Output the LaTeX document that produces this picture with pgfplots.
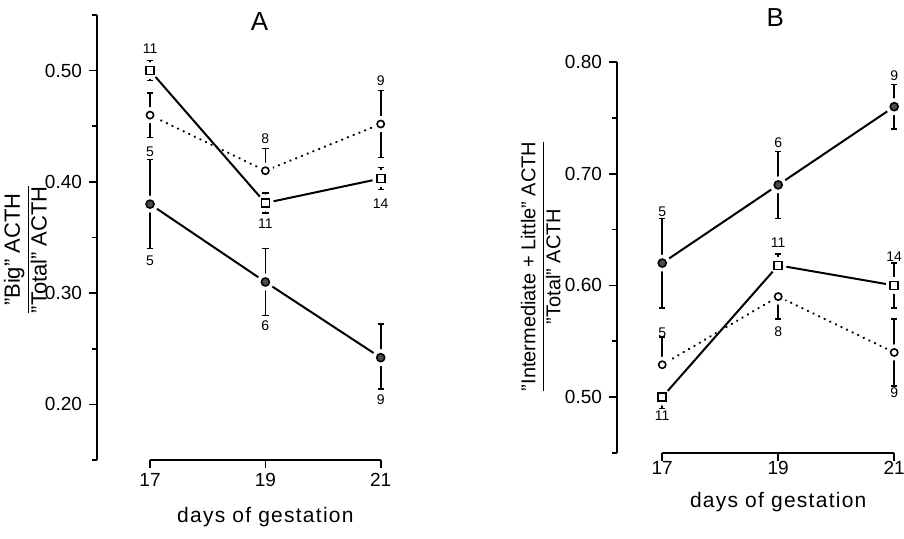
\documentclass[border=0pt]{standalone}
\usepackage{pgfplots}
\usepackage{pgfplotstable}
\pgfplotsset{compat=1.18}
\usepackage{fontspec}
\setmainfont{Liberation Sans}

% x = day, y = ratio, ep/em = upper/lower error
\pgfplotstableread{
x  y     ep    em
17 0.500 0.009 0.009
19 0.381 0.009 0.009
21 0.403 0.010 0.010
}\Asq
\pgfplotstableread{
x  y     ep    em
17 0.460 0.020 0.020
19 0.410 0.020 0.000
21 0.452 0.030 0.030
}\Aoc
\pgfplotstableread{
x  y     ep    em
17 0.380 0.040 0.040
19 0.310 0.030 0.030
21 0.242 0.030 0.028
}\Afc
\pgfplotstableread{
x  y     ep    em
17 0.620 0.040 0.040
19 0.690 0.030 0.030
21 0.760 0.020 0.020
}\Bfc
\pgfplotstableread{
x  y     ep    em
17 0.500 0.000 0.010
19 0.618 0.010 0.000
21 0.600 0.020 0.020
}\Bsq
\pgfplotstableread{
x  y     ep    em
17 0.529 0.025 0.000
19 0.590 0.000 0.020
21 0.540 0.030 0.030
}\Boc

\tikzset{nlab/.style={font=\fontsize{7}{8}\selectfont, inner sep=0pt}}

\pgfplotsset{
  panel/.style={
    scale only axis, clip=false,
    axis x line*=bottom, axis y line*=left, separate axis lines,
    x axis line style={draw=none},
    y axis line style={-, line width=0.9pt},
    tick align=outside,
    major tick length=4pt, minor tick length=2.5pt,
    every tick/.style={black, line width=0.8pt},
    xtick={17,19,21},
    ticklabel style={font=\fontsize{9.5}{11}\selectfont},
    yticklabel style={/pgf/number format/.cd, fixed, fixed zerofill, precision=2},
    /pgf/number format/assume math mode=true,
  },
  errs/.style={
    error bars/.cd, y dir=both, y explicit,
    error bar style={solid, line width=0.8pt},
    error mark options={solid, line width=0.8pt, mark size=1.6pt, rotate=90},
  },
  halo/.style={white, only marks, mark=*, mark size=#1, mark options={solid, draw=white, fill=white}},
  ln/.style={black, line width=1pt, mark=none},
  dt/.style={black, line width=1.2pt, mark=none, line cap=round, dash pattern=on 0.1pt off 3pt},
}

\begin{document}
\begin{tikzpicture}
\useasboundingbox (0,0) rectangle (452pt,269.5pt);

% ---------------- panel A
\begin{axis}[panel,
  at={(48.5pt,39.5pt)}, anchor=south west,
  width=150.5pt, height=222.5pt,
  xmin=16.08, xmax=21.3, ymin=0.15, ymax=0.55,
  ytick={0.2,0.3,0.4,0.5},
  minor ytick={0.15,0.25,0.35,0.45,0.55},
  xticklabel style={yshift=1pt},
]
\addplot[ln, errs] table[x=x, y=y, y error plus=ep, y error minus=em] {\Asq};
\addplot[dt, errs] table[x=x, y=y, y error plus=ep, y error minus=em] {\Aoc};
\addplot[ln, errs] table[x=x, y=y, y error plus=ep, y error minus=em] {\Afc};
\addplot[halo=4pt] table[x=x, y=y] {\Asq};
\addplot[halo=3.8pt] table[x=x, y=y] {\Aoc};
\addplot[halo=4pt] table[x=x, y=y] {\Afc};
\addplot[only marks, mark=square, mark size=2pt, mark options={solid, line width=0.8pt, fill=white}] table[x=x, y=y] {\Asq};
\addplot[only marks, mark=o, mark size=1.8pt, mark options={solid, line width=0.8pt}] table[x=x, y=y] {\Aoc};
\addplot[only marks, mark=*, mark size=2pt, mark options={solid, line width=0.8pt, fill=black!70}] table[x=x, y=y] {\Afc};

\draw[line width=0.9pt] (axis cs:17,0.15) -- (axis cs:21,0.15);

\node[nlab] at (axis cs:17,0.5196) {11};
\node[nlab] at (axis cs:17,0.427) {5};
\node[nlab] at (axis cs:17,0.329) {5};
\node[nlab] at (axis cs:19,0.439) {8};
\node[nlab] at (axis cs:19,0.362) {11};
\node[nlab] at (axis cs:19,0.271) {6};
\node[nlab] at (axis cs:21,0.491) {9};
\node[nlab] at (axis cs:21,0.380) {14};
\node[nlab] at (axis cs:21,0.204) {9};

\node[font=\fontsize{13}{15}\selectfont] at (axis cs:18.9,0.544) {A};
\node[font=\fontsize{10.5}{12}\selectfont\addfontfeature{LetterSpace=6}] at (axis cs:19,0.15) [yshift=-28.5pt] {days of gestation};
\node[rotate=90, inner sep=0pt, font=\fontsize{11}{13}\selectfont] at (axis cs:16.08,0.339) [yshift=34.5pt]
  {\begin{tabular}{@{}c@{}}"Big" ACTH\\\hline\rule{0pt}{8.5pt}"Total" ACTH\end{tabular}};
\end{axis}

% ---------------- panel B
\begin{axis}[panel,
  at={(308.5pt,43pt)}, anchor=south west,
  width=141.5pt, height=195.5pt,
  xmin=16.22, xmax=21.1, ymin=0.45, ymax=0.80,
  ytick={0.5,0.6,0.7,0.8},
  minor ytick={0.45,0.55,0.65,0.75},
  xticklabel style={yshift=3.5pt},
]
\addplot[ln, errs] table[x=x, y=y, y error plus=ep, y error minus=em] {\Bfc};
\addplot[ln, errs] table[x=x, y=y, y error plus=ep, y error minus=em] {\Bsq};
\addplot[dt, errs] table[x=x, y=y, y error plus=ep, y error minus=em] {\Boc};
\addplot[halo=4pt] table[x=x, y=y] {\Bfc};
\addplot[halo=4pt] table[x=x, y=y] {\Bsq};
\addplot[halo=3.8pt] table[x=x, y=y] {\Boc};
\addplot[only marks, mark=*, mark size=2pt, mark options={solid, line width=0.8pt, fill=black!70}] table[x=x, y=y] {\Bfc};
\addplot[only marks, mark=square, mark size=2pt, mark options={solid, line width=0.8pt, fill=white}] table[x=x, y=y] {\Bsq};
\addplot[only marks, mark=o, mark size=1.8pt, mark options={solid, line width=0.8pt}] table[x=x, y=y] {\Boc};

\draw[line width=0.9pt] (axis cs:17,0.45) -- (axis cs:21,0.45);

\node[nlab] at (axis cs:21,0.788) {9};
\node[nlab] at (axis cs:19,0.728) {6};
\node[nlab] at (axis cs:17,0.666) {5};
\node[nlab] at (axis cs:19,0.638) {11};
\node[nlab] at (axis cs:21,0.626) {14};
\node[nlab] at (axis cs:19,0.559) {8};
\node[nlab] at (axis cs:17,0.558) {5};
\node[nlab] at (axis cs:17,0.483) {11};
\node[nlab] at (axis cs:21,0.504) {9};

\node[font=\fontsize{13}{15}\selectfont] at (axis cs:18.95,0.84) {B};
\node[font=\fontsize{10.5}{12}\selectfont\addfontfeature{LetterSpace=6}] at (axis cs:19,0.45) [yshift=-24.5pt] {days of gestation};
\node[rotate=90, inner sep=0pt, font=\fontsize{10}{12}\selectfont] at (axis cs:16.22,0.617) [yshift=37pt]
  {\begin{tabular}{@{}c@{}}"Intermediate + Little" ACTH\\\hline\rule{0pt}{8.5pt}"Total" ACTH\end{tabular}};
\end{axis}
\end{tikzpicture}
\end{document}
